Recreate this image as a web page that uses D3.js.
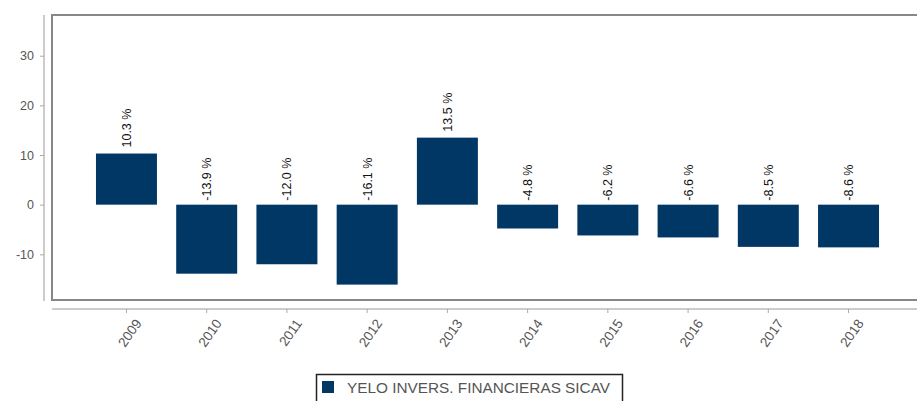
<!DOCTYPE html>
<html><head><meta charset="utf-8">
<script src="https://cdn.jsdelivr.net/npm/d3@7"></script>
<style>body{margin:0;background:#fff;} svg{display:block;font-family:"Liberation Sans",Arial,sans-serif;}</style>
</head><body>
<svg id="c" width="917" height="401"></svg>
<script>
const years = ["2009","2010","2011","2012","2013","2014","2015","2016","2017","2018"];
const values = [10.3,-13.9,-12.0,-16.1,13.5,-4.8,-6.2,-6.6,-8.5,-8.6];
const yTicks = [30,20,10,0,-10];
const seriesName = "YELO INVERS. FINANCIERAS SICAV";
const barColor = "#003764";

const svg = d3.select("#c");
const x = d3.scaleBand().domain(years).range([52, 923]).paddingInner(0.24).paddingOuter(0.548);
const y = d3.scaleLinear().domain([-19.2, 38.2]).range([300, 15]);

// frame
svg.append("rect").attr("x",52).attr("y",15).attr("width",880).attr("height",285)
  .attr("fill","none").attr("stroke","#888").attr("stroke-width",2);

// y axis
const ya = svg.append("g").attr("transform","translate(44,0)")
  .call(d3.axisLeft(y).tickValues(yTicks).tickSize(4).tickPadding(6).tickFormat(d=>String(d)));
ya.select(".domain").attr("stroke","#ccc").attr("stroke-width",2).attr("d","M0,15V301");
ya.selectAll(".tick line").attr("stroke","#aaa");
ya.selectAll(".tick text").attr("fill","#555").attr("font-size",12.5).attr("font-family","Liberation Sans, Arial, sans-serif");

// x axis
const xa = svg.append("g").attr("transform","translate(0,309)")
  .call(d3.axisBottom(x).tickSize(4).tickPadding(9));
xa.select(".domain").attr("stroke","#ccc").attr("stroke-width",2).attr("d","M52,0H917");
xa.selectAll(".tick line").attr("stroke","#aaa");
xa.selectAll(".tick text").attr("fill","#555").attr("font-size",13.5).attr("font-family","Liberation Sans, Arial, sans-serif")
  .attr("text-anchor","end").attr("dx","-0.2em").attr("dy","0.6em")
  .attr("transform","rotate(-55)");

// bars
svg.append("g").selectAll("rect").data(values).join("rect")
  .attr("x",(d,i)=>x(years[i]))
  .attr("width",x.bandwidth())
  .attr("y",d=>y(Math.max(0,d)))
  .attr("height",d=>Math.abs(y(d)-y(0)))
  .attr("fill",barColor);

// labels
svg.append("g").selectAll("text").data(values).join("text")
  .attr("transform",(d,i)=>{
    const cx = x(years[i]) + x.bandwidth()/2 + 4.5;
    const cy = d>=0 ? y(d)-6 : y(0)-4;
    return `translate(${cx},${cy}) rotate(-90)`;
  })
  .attr("font-size",12.5).attr("fill","#111")
  .text(d=>d.toFixed(1)+" %");

// legend
const lg = svg.append("g");
lg.append("rect").attr("x",316.5).attr("y",374.5).attr("width",306).attr("height",40)
  .attr("fill","#fff").attr("stroke","#222").attr("stroke-width",1.5);
lg.append("rect").attr("x",322).attr("y",381).attr("width",12).attr("height",12).attr("fill",barColor);
lg.append("text").attr("x",347).attr("y",392.5).attr("font-size",14).attr("fill","#555")
  .attr("textLength",263).attr("lengthAdjust","spacingAndGlyphs")
  .text(seriesName);
</script>
</body></html>
